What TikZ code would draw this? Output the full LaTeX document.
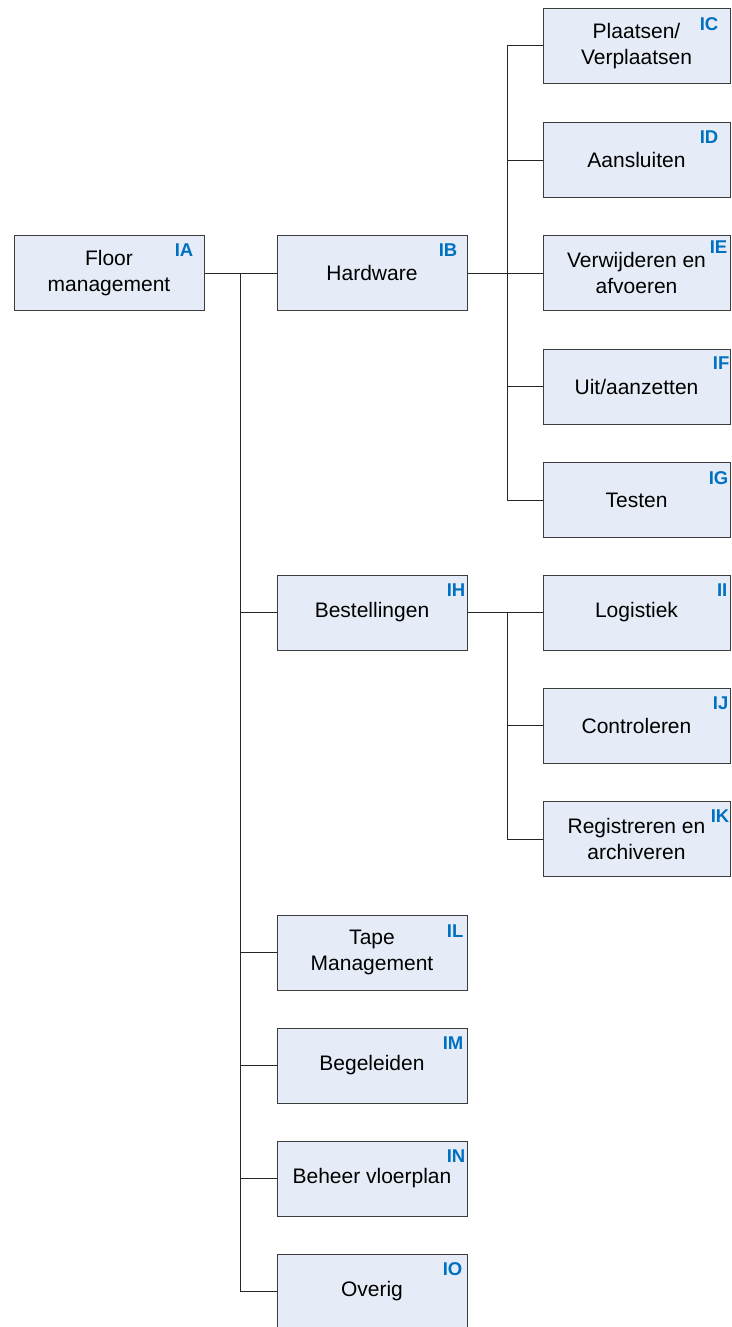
\documentclass[tikz,border=0pt]{standalone}
\usepackage{fontspec}
\setmainfont{Liberation Sans}
\definecolor{boxfill}{RGB}{230,236,247}
\definecolor{lblue}{RGB}{0,112,192}
\definecolor{edgec}{RGB}{60,60,60}
\tikzset{
  box/.style={draw=edgec, line width=1pt, fill=boxfill, minimum width=190pt, minimum height=75pt,
    inner sep=0pt, align=center, font=\fontsize{21}{26}\selectfont},
  rbox/.style={box, minimum width=187pt},
  tag/.style={anchor=north east, inner sep=0pt, text=lblue, font=\fontsize{18.5}{18.5}\selectfont\bfseries},
  conn/.style={draw=black!85, line width=1pt}
}
\begin{document}
\begin{tikzpicture}[x=1pt,y=-1pt]
\useasboundingbox (0,0) rectangle (731,1327);
\clip (0,0) rectangle (731,1327);
% left level
\node[box] (IA) at (109,273) {Floor\\management};
% middle column
\node[box] (IB) at (372,273) {Hardware};
\node[box] (IH) at (372,612.5) {Bestellingen};
\node[box] (IL) at (372,952.5) {Tape\\Management};
\node[box] (IM) at (372,1065.5) {Begeleiden};
\node[box] (IN) at (372,1178.5) {Beheer vloerplan};
\node[box] (IO) at (372,1291.5) {Overig};
% right column
\node[rbox] (IC) at (636.5,46) {Plaatsen/\\Verplaatsen};
\node[rbox] (ID) at (636.5,160) {Aansluiten};
\node[rbox] (IE) at (636.5,273) {Verwijderen en\\afvoeren};
\node[rbox] (IF) at (636.5,386.5) {Uit/aanzetten};
\node[rbox] (IG) at (636.5,500) {Testen};
\node[rbox] (II) at (636.5,612.5) {Logistiek};
\node[rbox] (IJ) at (636.5,725.5) {Controleren};
\node[rbox] (IK) at (636.5,839) {Registreren en\\archiveren};
% tags
\node[tag, xshift=-11pt, yshift=-9pt] (tIA) at (IA.north east) {IA};
\node[tag, xshift=-10pt, yshift=-9pt] (tIB) at (IB.north east) {IB};
\node[tag, xshift=-12pt, yshift=-9pt] (tIC) at (IC.north east) {IC};
\node[tag, xshift=-12pt, yshift=-9pt] (tID) at (ID.north east) {ID};
\node[tag, xshift=-3pt, yshift=-6pt] (tIE) at (IE.north east) {IE};
\node[tag, xshift=-1pt, yshift=-8pt] (tIF) at (IF.north east) {IF};
\node[tag, xshift=-2pt, yshift=-9pt] (tIG) at (IG.north east) {IG};
\node[tag, xshift=-2pt, yshift=-9pt] (tIH) at (IH.north east) {IH};
\node[tag, xshift=-3pt, yshift=-9pt] (tII) at (II.north east) {II};
\node[tag, xshift=-2pt, yshift=-9pt] (tIJ) at (IJ.north east) {IJ};
\node[tag, xshift=-1pt, yshift=-9pt] (tIK) at (IK.north east) {IK};
\node[tag, xshift=-4pt, yshift=-10pt] (tIL) at (IL.north east) {IL};
\node[tag, xshift=-4pt, yshift=-9pt] (tIM) at (IM.north east) {IM};
\node[tag, xshift=-2pt, yshift=-9pt] (tIN) at (IN.north east) {IN};
\node[tag, xshift=-5pt, yshift=-9pt] (tIO) at (IO.north east) {IO};
% junctions
\coordinate (jA) at (240,273);
\coordinate (jB) at (507,273);
\coordinate (jH) at (507,612.5);
% connectors
\draw[conn] (IA.east) -- (IB.west);
\draw[conn] (jA) |- (IH.west);
\draw[conn] (jA) |- (IL.west);
\draw[conn] (jA) |- (IM.west);
\draw[conn] (jA) |- (IN.west);
\draw[conn] (jA) |- (IO.west);
\draw[conn] (IB.east) -- (IE.west);
\draw[conn] (jB) |- (IC.west);
\draw[conn] (jB) |- (ID.west);
\draw[conn] (jB) |- (IF.west);
\draw[conn] (jB) |- (IG.west);
\draw[conn] (IH.east) -- (II.west);
\draw[conn] (jH) |- (IJ.west);
\draw[conn] (jH) |- (IK.west);
\end{tikzpicture}
\end{document}
